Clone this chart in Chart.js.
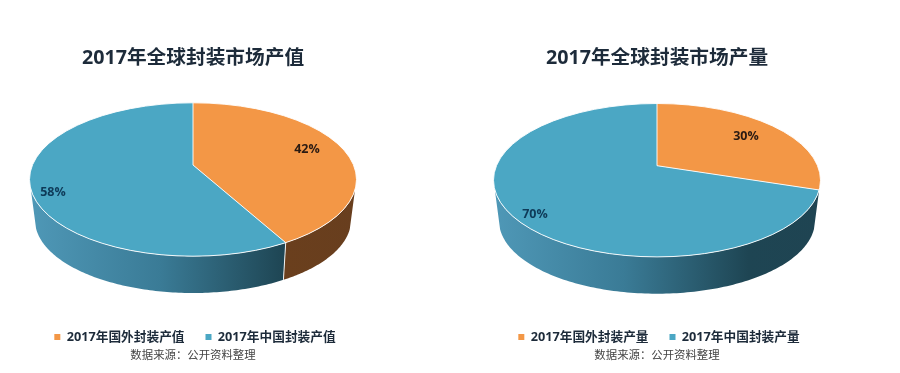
<!DOCTYPE html>
<html>
<head>
<meta charset="utf-8">
<script src="https://cdn.jsdelivr.net/npm/chart.js@4/dist/chart.umd.min.js"></script>
<style>
  html, body { margin: 0; padding: 0; background: #fff; }
  body { width: 900px; height: 373px; position: relative; overflow: hidden; }
  .panel { position: absolute; top: 0; width: 386px; height: 373px; }
</style>
</head>
<body>
<div class="panel" style="left:0"><canvas id="pie-value"></canvas></div>
<div class="panel" style="left:464px"><canvas id="pie-output"></canvas></div>
<script>
var valueTitle = '2017年全球封装市场产值';
var valueLabels = ['2017年国外封装产值', '2017年中国封装产值'];
var valueData = [42, 58];

var outputTitle = '2017年全球封装市场产量';
var outputLabels = ['2017年国外封装产量', '2017年中国封装产量'];
var outputData = [30, 70];

var sourceNote = '数据来源：公开资料整理';
var sliceColors = ['#F39746', '#4BA7C4'];

var FONT = '"Open Sans", "Noto Sans CJK SC", sans-serif';

// wall gradient stops, one list per slice
var wallStops = [
  [[0, '#8a5528'], [0.78, '#6a3f1d'], [1, '#683e1e']],
  [[0, '#4f98b7'], [0.4, '#3a7b96'], [0.78, '#1e4553'], [1, '#1f4452']]
];

// maps an angle on the round pie to the tilted ellipse, the apex sits off centre
function project(theta, cx, cy, rx, ry, v) {
  var x = Math.sin(theta), y = -Math.cos(theta);
  var d = 1 + v * y;
  return {
    x: cx + rx * x * Math.sqrt(1 - v * v) / d,
    y: cy + ry * (y + v) / d
  };
}

var pie3d = {
  id: 'pie3d',
  afterLayout: function (chart) {
    // legend sits 2px right of the title centre in the picture
    chart.legend.left += 2;
    chart.legend.right += 2;
  },
  beforeDatasetsDraw: function (chart, args, opts) {
    var ctx = chart.ctx;
    var arcs = chart.getDatasetMeta(0).data;
    var top = opts.top, bot = opts.bottom;
    var v = (opts.apexY - top.cy) / top.ry;
    var wallFrom = top.cy + 9.5;

    // side wall first, only the part below the front of the top face
    arcs.forEach(function (arc, i) {
      var a0 = arc.startAngle + Math.PI / 2, a1 = arc.endAngle + Math.PI / 2;
      var n = 240, k, t, p;
      var kept = [];
      for (k = 0; k <= n; k++) {
        t = a0 + (a1 - a0) * k / n;
        if (project(t, top.cx, top.cy, top.rx, top.ry, v).y >= wallFrom) kept.push(t);
      }
      if (kept.length < 2) return;
      var g = ctx.createLinearGradient(top.cx - top.rx, 0, top.cx + top.rx, 0);
      wallStops[i].forEach(function (s) { g.addColorStop(s[0], s[1]); });
      ctx.beginPath();
      kept.forEach(function (t) {
        p = project(t, top.cx, top.cy, top.rx, top.ry, v);
        ctx.lineTo(p.x, p.y);
      });
      kept.reverse().forEach(function (t) {
        p = project(t, bot.cx, bot.cy, bot.rx, bot.ry, bot.v);
        ctx.lineTo(p.x, p.y);
      });
      ctx.closePath();
      ctx.fillStyle = g;
      ctx.fill();
    });

    // the library's arcs, stretched around the apex and cut by the ellipse
    var a = arcs[0];
    var big = 260;
    var scale = big / a.outerRadius;
    var squash = (top.ry / top.rx) * Math.sqrt(1 - v * v);
    ctx.save();
    ctx.beginPath();
    ctx.ellipse(top.cx, top.cy, top.rx, top.ry, 0, 0, Math.PI * 2);
    ctx.clip();
    ctx.translate(top.cx, opts.apexY);
    ctx.scale(scale, scale * squash);
    ctx.translate(-a.x, -a.y);
  },
  afterDatasetsDraw: function (chart, args, opts) {
    var ctx = chart.ctx;
    ctx.restore();
    var arcs = chart.getDatasetMeta(0).data;
    var top = opts.top, bot = opts.bottom;
    var v = (opts.apexY - top.cy) / top.ry;

    // white rim and slice edges
    ctx.save();
    ctx.strokeStyle = 'rgba(255,255,255,0.9)';
    ctx.lineWidth = 1;
    ctx.beginPath();
    ctx.ellipse(top.cx, top.cy, top.rx, top.ry, 0, 0, Math.PI * 2);
    ctx.stroke();
    arcs.forEach(function (arc) {
      var t = arc.startAngle + Math.PI / 2;
      var p = project(t, top.cx, top.cy, top.rx, top.ry, v);
      var q = project(t, bot.cx, bot.cy, bot.rx, bot.ry, bot.v);
      ctx.beginPath();
      ctx.moveTo(top.cx, opts.apexY);
      ctx.lineTo(p.x, p.y);
      // only front edges run down the wall
      if (-Math.cos(t) > 0.5) ctx.lineTo(q.x, q.y);
      ctx.stroke();
    });

    // percentage labels
    var values = chart.data.datasets[0].data;
    ctx.font = 'bold 12.5px ' + FONT;
    ctx.textAlign = 'center';
    ctx.textBaseline = 'middle';
    values.forEach(function (val, i) {
      ctx.fillStyle = opts.labelColors[i];
      ctx.fillText(val + '%', opts.labelAt[i][0], opts.labelAt[i][1]);
    });
    ctx.restore();
  }
};

function makePie(id, title, labels, values, labelAt, dy) {
  new Chart(document.getElementById(id), {
    type: 'pie',
    data: {
      labels: labels,
      datasets: [{
        data: values,
        backgroundColor: sliceColors,
        borderWidth: 0
      }]
    },
    plugins: [pie3d],
    options: {
      responsive: false,
      animation: false,
      layout: { padding: { top: 47, bottom: 10 } },
      plugins: {
        tooltip: { enabled: false },
        title: {
          display: true,
          text: title,
          color: '#1d2b3a',
          font: { family: FONT, size: 19.7, weight: 'bold' },
          padding: { top: 0, bottom: 0 }
        },
        subtitle: {
          display: true,
          text: sourceNote,
          position: 'bottom',
          color: '#444',
          font: { family: FONT, size: 11.4, weight: 'normal' },
          padding: { top: -4, bottom: 0 }
        },
        legend: {
          position: 'bottom',
          labels: {
            usePointStyle: true,
            pointStyle: 'rect',
            boxWidth: 6,
            boxHeight: 6,
            color: '#1d2b3a',
            font: { family: FONT, size: 12.7, weight: 'bold' },
            padding: 21
          }
        },
        pie3d: {
          apexY: 165 + dy,
          top: { cx: 193, cy: 179.5 + dy, rx: 163.5, ry: 76.7 },
          bottom: { cx: 193, cy: 220 + dy, rx: 158, ry: 73, v: -0.2 },
          labelAt: labelAt,
          labelColors: ['#2a1a12', '#0e3a58']
        }
      }
    }
  });
}

// canvas size set before the chart picks it up
['pie-value', 'pie-output'].forEach(function (id) {
  var c = document.getElementById(id);
  c.width = 386;
  c.height = 373;
});

makePie('pie-value', valueTitle, valueLabels, valueData, [[307, 149.5], [53, 192.5]], 0);
makePie('pie-output', outputTitle, outputLabels, outputData, [[282, 136.5], [71, 214.5]], 0.7);
</script>
</body>
</html>
